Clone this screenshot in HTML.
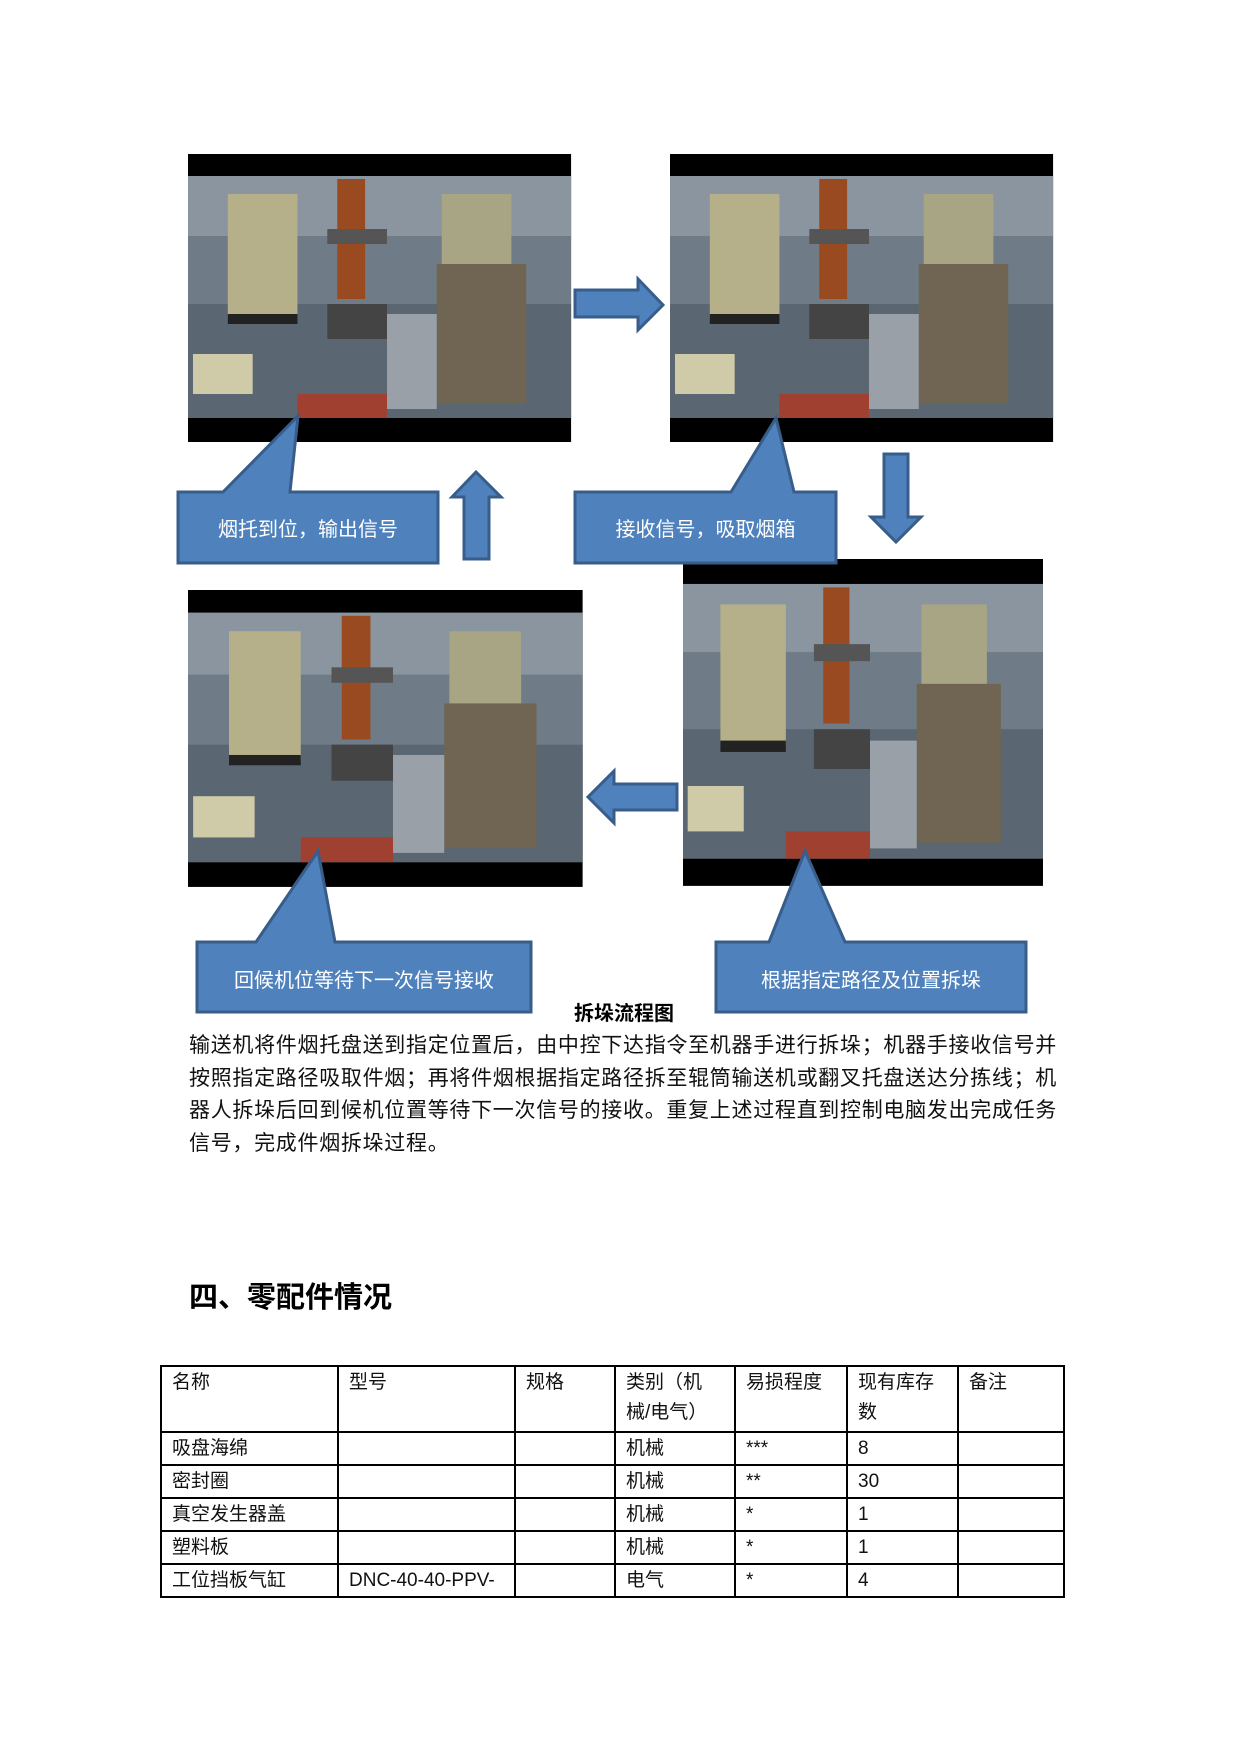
<!DOCTYPE html>
<html><head><meta charset="utf-8"><style>
body{margin:0;background:#fff;}
#pg{position:relative;width:1240px;height:1754px;overflow:hidden;font-family:"Liberation Sans","Noto Sans CJK SC",sans-serif;}
svg{position:absolute;left:0;top:0}
.t{position:absolute;color:#fff;font-size:20px;text-align:center;}
.p{position:absolute;left:189px;width:872px;font-size:21px;letter-spacing:0.7px;line-height:32.7px;color:#111;}
table{position:absolute;left:160px;top:1365px;border-collapse:collapse;font-size:19px;color:#111}
td{border:2px solid #000;padding:1px 10px 0 10px;vertical-align:top;line-height:30px}
</style></head><body><div id="pg">
<svg width="1240" height="1754" viewBox="0 0 1240 1754">
<defs>
<g id="ph">
<rect x="0" y="0" width="385" height="288" fill="#000"/>
<rect x="0" y="22" width="385" height="242" fill="#6f7c88"/>
<rect x="0" y="22" width="385" height="60" fill="#8a95a0"/>
<rect x="0" y="150" width="385" height="114" fill="#5a6672"/>
<rect x="40" y="40" width="70" height="125" fill="#b5b08a"/>
<rect x="40" y="160" width="70" height="10" fill="#222"/>
<rect x="255" y="40" width="70" height="80" fill="#a8a585"/>
<rect x="250" y="110" width="90" height="140" fill="#6f6552"/>
<rect x="200" y="160" width="50" height="95" fill="#9aa0a8"/>
<rect x="5" y="200" width="60" height="40" fill="#cfcaa8"/>
<rect x="140" y="150" width="60" height="35" fill="#444"/>
<rect x="150" y="25" width="28" height="120" fill="#9a4a20"/>
<rect x="140" y="75" width="60" height="15" fill="#555"/>
<rect x="110" y="240" width="90" height="24" fill="#a04030"/>
</g>
</defs>
<use href="#ph" transform="translate(188,154) scale(0.995,1)"/>
<use href="#ph" transform="translate(670,154) scale(0.995,1)"/>
<use href="#ph" transform="translate(683,559) scale(0.935,1.135)"/>
<use href="#ph" transform="translate(188,590) scale(1.025,1.031)"/>
<g fill="#4f81bd" stroke="#385d8a" stroke-width="3" stroke-linejoin="miter">
<path d="M178,492 H223 L298,416 L290,492 H438 V563 H178 Z"/>
<path d="M575,492 H731 L776,418 L794,492 H836 V563 H575 Z"/>
<path d="M197,942 H256 L318,851 L335,942 H531 V1012 H197 Z"/>
<path d="M716,942 H769 L805,851 L845,942 H1026 V1012 H716 Z"/>
<path d="M575,290 H638 V279 L663,305 L638,330 V317 H575 Z"/>
<path d="M464,559 V497 H452 L476,472 L501,497 H489 V559 Z"/>
<path d="M884,454 H908 V517 H921 L896,542 L871,517 H884 Z"/>
<path d="M677,784 H614 V771 L588,797 L614,823 V810 H677 Z"/>
</g>
</svg>
<div class="t" style="left:178px;top:513px;width:260px">烟托到位，输出信号</div>
<div class="t" style="left:575px;top:513px;width:261px">接收信号，吸取烟箱</div>
<div class="t" style="left:197px;top:964px;width:334px">回候机位等待下一次信号接收</div>
<div class="t" style="left:716px;top:964px;width:310px">根据指定路径及位置拆垛</div>
<div style="position:absolute;left:524px;top:997px;width:200px;text-align:center;font-size:20px;font-weight:bold;color:#000">拆垛流程图</div>
<div class="p" style="top:1030px">输送机将件烟托盘送到指定位置后，由中控下达指令至机器手进行拆垛；机器手接收信号并按照指定路径吸取件烟；再将件烟根据指定路径拆至辊筒输送机或翻叉托盘送达分拣线；机器人拆垛后回到候机位置等待下一次信号的接收。重复上述过程直到控制电脑发出完成任务信号，完成件烟拆垛过程。</div>
<div style="position:absolute;left:189px;top:1274px;font-size:29px;font-weight:bold;color:#000">四、零配件情况</div>
<table>
<colgroup><col style="width:177px"><col style="width:177px"><col style="width:100px"><col style="width:120px"><col style="width:112px"><col style="width:111px"><col style="width:106px"></colgroup>
<tr style="height:66px"><td>名称</td><td>型号</td><td>规格</td><td>类别（机械/电气）</td><td>易损程度</td><td>现有库存数</td><td>备注</td></tr>
<tr style="height:33px"><td>吸盘海绵</td><td></td><td></td><td>机械</td><td>***</td><td>8</td><td></td></tr>
<tr style="height:33px"><td>密封圈</td><td></td><td></td><td>机械</td><td>**</td><td>30</td><td></td></tr>
<tr style="height:33px"><td>真空发生器盖</td><td></td><td></td><td>机械</td><td>*</td><td>1</td><td></td></tr>
<tr style="height:33px"><td>塑料板</td><td></td><td></td><td>机械</td><td>*</td><td>1</td><td></td></tr>
<tr style="height:33px"><td>工位挡板气缸</td><td>DNC-40-40-PPV-</td><td></td><td>电气</td><td>*</td><td>4</td><td></td></tr>
</table>
</div></body></html>
